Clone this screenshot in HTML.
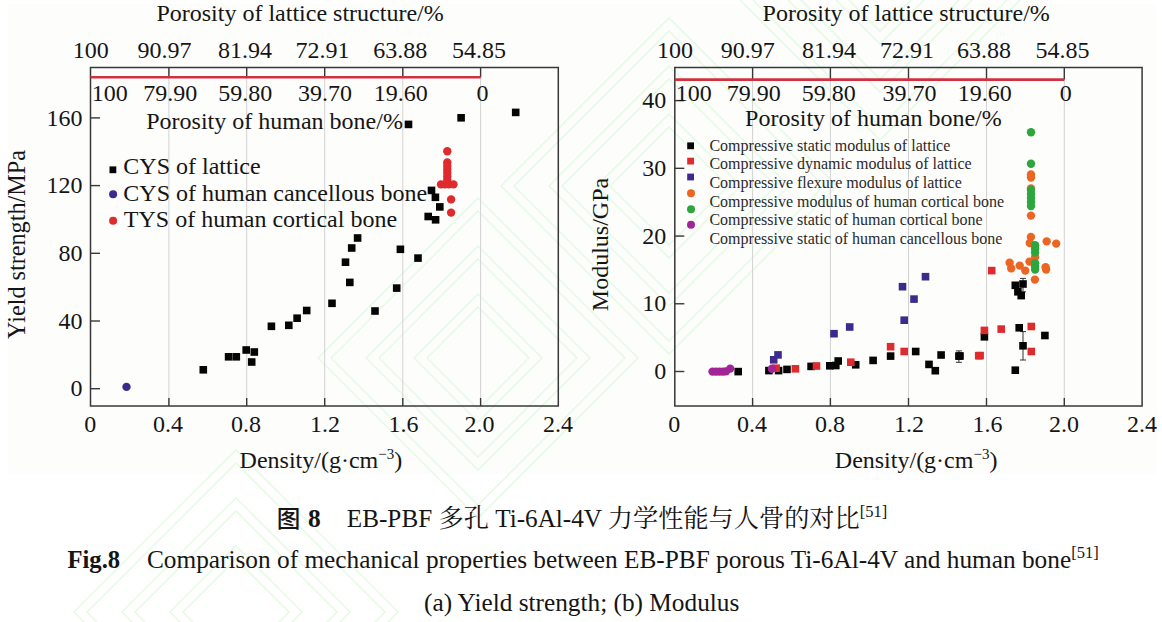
<!DOCTYPE html>
<html><head><meta charset="utf-8"><title>Fig.8</title>
<style>
html,body{margin:0;padding:0;background:#fff;}
body{width:1162px;height:622px;overflow:hidden;}
svg{display:block;}
</style></head><body>
<svg width="1162" height="622" viewBox="0 0 1162 622">
<rect x="8" y="4" width="1149" height="470" fill="#fdfdfc"/>
<g>
<path d="M478.0 198.0 L638.0 358.0 L478.0 518.0 L318.0 358.0 Z" fill="none" stroke="#e6fae6" stroke-width="1.6"/>
<path d="M478.0 211.0 L625.0 358.0 L478.0 505.0 L331.0 358.0 Z" fill="none" stroke="#e6fae6" stroke-width="1.6"/>
<path d="M478.0 246.0 L590.0 358.0 L478.0 470.0 L366.0 358.0 Z" fill="none" stroke="#e6fae6" stroke-width="1.6"/>
<path d="M478.0 259.0 L577.0 358.0 L478.0 457.0 L379.0 358.0 Z" fill="none" stroke="#e6fae6" stroke-width="1.6"/>
<path d="M478.0 294.0 L542.0 358.0 L478.0 422.0 L414.0 358.0 Z" fill="none" stroke="#e6fae6" stroke-width="1.6"/>
<path d="M478.0 307.0 L529.0 358.0 L478.0 409.0 L427.0 358.0 Z" fill="none" stroke="#e6fae6" stroke-width="1.6"/>
<path d="M669.0 18.0 L837.0 186.0 L669.0 354.0 L501.0 186.0 Z" fill="none" stroke="#e6fae6" stroke-width="1.6"/>
<path d="M669.0 31.0 L824.0 186.0 L669.0 341.0 L514.0 186.0 Z" fill="none" stroke="#e6fae6" stroke-width="1.6"/>
<path d="M669.0 66.0 L789.0 186.0 L669.0 306.0 L549.0 186.0 Z" fill="none" stroke="#e6fae6" stroke-width="1.6"/>
<path d="M669.0 79.0 L776.0 186.0 L669.0 293.0 L562.0 186.0 Z" fill="none" stroke="#e6fae6" stroke-width="1.6"/>
<path d="M669.0 114.0 L741.0 186.0 L669.0 258.0 L597.0 186.0 Z" fill="none" stroke="#e6fae6" stroke-width="1.6"/>
<path d="M669.0 127.0 L728.0 186.0 L669.0 245.0 L610.0 186.0 Z" fill="none" stroke="#e6fae6" stroke-width="1.6"/>
<path d="M236.0 450.0 L398.0 612.0 L236.0 774.0 L74.0 612.0 Z" fill="none" stroke="#e6fae6" stroke-width="1.6"/>
<path d="M236.0 463.0 L385.0 612.0 L236.0 761.0 L87.0 612.0 Z" fill="none" stroke="#e6fae6" stroke-width="1.6"/>
<path d="M236.0 498.0 L350.0 612.0 L236.0 726.0 L122.0 612.0 Z" fill="none" stroke="#e6fae6" stroke-width="1.6"/>
<path d="M236.0 511.0 L337.0 612.0 L236.0 713.0 L135.0 612.0 Z" fill="none" stroke="#e6fae6" stroke-width="1.6"/>
<path d="M236.0 546.0 L302.0 612.0 L236.0 678.0 L170.0 612.0 Z" fill="none" stroke="#e6fae6" stroke-width="1.6"/>
<path d="M236.0 559.0 L289.0 612.0 L236.0 665.0 L183.0 612.0 Z" fill="none" stroke="#e6fae6" stroke-width="1.6"/>
<path d="M880.0 -160.0 L1030.0 -10.0 L880.0 140.0 L730.0 -10.0 Z" fill="none" stroke="#e6fae6" stroke-width="1.6"/>
<path d="M880.0 -147.0 L1017.0 -10.0 L880.0 127.0 L743.0 -10.0 Z" fill="none" stroke="#e6fae6" stroke-width="1.6"/>
<path d="M880.0 -112.0 L982.0 -10.0 L880.0 92.0 L778.0 -10.0 Z" fill="none" stroke="#e6fae6" stroke-width="1.6"/>
<path d="M880.0 -99.0 L969.0 -10.0 L880.0 79.0 L791.0 -10.0 Z" fill="none" stroke="#e6fae6" stroke-width="1.6"/>
<path d="M880.0 -64.0 L934.0 -10.0 L880.0 44.0 L826.0 -10.0 Z" fill="none" stroke="#e6fae6" stroke-width="1.6"/>
<path d="M880.0 -51.0 L921.0 -10.0 L880.0 31.0 L839.0 -10.0 Z" fill="none" stroke="#e6fae6" stroke-width="1.6"/>
</g>
<g font-family="'Liberation Serif', 'Times New Roman', serif" fill="#151515">
<line x1="168.90" y1="67.5" x2="168.90" y2="406" stroke="#d2d2d2" stroke-width="1"/>
<line x1="246.70" y1="67.5" x2="246.70" y2="406" stroke="#d2d2d2" stroke-width="1"/>
<line x1="324.70" y1="67.5" x2="324.70" y2="406" stroke="#d2d2d2" stroke-width="1"/>
<line x1="402.80" y1="67.5" x2="402.80" y2="406" stroke="#d2d2d2" stroke-width="1"/>
<line x1="480.60" y1="67.5" x2="480.60" y2="406" stroke="#d2d2d2" stroke-width="1"/>
<line x1="168.90" y1="67.5" x2="168.90" y2="77.3" stroke="#383838" stroke-width="1.4"/>
<line x1="168.90" y1="406" x2="168.90" y2="398" stroke="#383838" stroke-width="1.4"/>
<line x1="246.70" y1="67.5" x2="246.70" y2="77.3" stroke="#383838" stroke-width="1.4"/>
<line x1="246.70" y1="406" x2="246.70" y2="398" stroke="#383838" stroke-width="1.4"/>
<line x1="324.70" y1="67.5" x2="324.70" y2="77.3" stroke="#383838" stroke-width="1.4"/>
<line x1="324.70" y1="406" x2="324.70" y2="398" stroke="#383838" stroke-width="1.4"/>
<line x1="402.80" y1="67.5" x2="402.80" y2="77.3" stroke="#383838" stroke-width="1.4"/>
<line x1="402.80" y1="406" x2="402.80" y2="398" stroke="#383838" stroke-width="1.4"/>
<line x1="480.60" y1="67.5" x2="480.60" y2="77.3" stroke="#383838" stroke-width="1.4"/>
<line x1="480.60" y1="406" x2="480.60" y2="398" stroke="#383838" stroke-width="1.4"/>
<line x1="90.5" y1="388.70" x2="100.0" y2="388.70" stroke="#383838" stroke-width="1.4"/>
<text x="70.60" y="396.40" font-size="24" text-anchor="start" >0</text>
<line x1="90.5" y1="321.00" x2="100.0" y2="321.00" stroke="#383838" stroke-width="1.4"/>
<text x="58.60" y="328.70" font-size="24" text-anchor="start" >40</text>
<line x1="90.5" y1="253.30" x2="100.0" y2="253.30" stroke="#383838" stroke-width="1.4"/>
<text x="58.60" y="261.00" font-size="24" text-anchor="start" >80</text>
<line x1="90.5" y1="185.60" x2="100.0" y2="185.60" stroke="#383838" stroke-width="1.4"/>
<text x="46.60" y="193.30" font-size="24" text-anchor="start" >120</text>
<line x1="90.5" y1="117.90" x2="100.0" y2="117.90" stroke="#383838" stroke-width="1.4"/>
<text x="46.60" y="125.60" font-size="24" text-anchor="start" >160</text>
<rect x="90.5" y="67.5" width="467.80" height="338.50" fill="none" stroke="#383838" stroke-width="1.5"/>
<line x1="90.5" y1="77.3" x2="480.60" y2="77.3" stroke="#d3303f" stroke-width="2.6"/>
<text x="72.80" y="58.30" font-size="24" text-anchor="start" >100</text>
<text x="137.50" y="58.30" font-size="24" text-anchor="start" >90.97</text>
<text x="218.12" y="58.30" font-size="24" text-anchor="start" >81.94</text>
<text x="295.50" y="58.30" font-size="24" text-anchor="start" >72.91</text>
<text x="373.20" y="58.30" font-size="24" text-anchor="start" >63.88</text>
<text x="452.05" y="58.30" font-size="24" text-anchor="start" >54.85</text>
<text x="91.70" y="101.10" font-size="24" text-anchor="start" >100</text>
<text x="143.35" y="101.10" font-size="24" text-anchor="start" >79.90</text>
<text x="218.25" y="101.10" font-size="24" text-anchor="start" >59.80</text>
<text x="298.07" y="101.10" font-size="24" text-anchor="start" >39.70</text>
<text x="373.80" y="101.10" font-size="24" text-anchor="start" >19.60</text>
<text x="476.40" y="101.10" font-size="24" text-anchor="start" >0</text>
<text x="84.30" y="431.60" font-size="24" text-anchor="start" >0</text>
<text x="153.12" y="431.60" font-size="24" text-anchor="start" >0.4</text>
<text x="231.00" y="431.60" font-size="24" text-anchor="start" >0.8</text>
<text x="310.12" y="431.60" font-size="24" text-anchor="start" >1.2</text>
<text x="388.57" y="431.60" font-size="24" text-anchor="start" >1.6</text>
<text x="464.60" y="431.60" font-size="24" text-anchor="start" >2.0</text>
<text x="543.02" y="431.60" font-size="24" text-anchor="start" >2.4</text>
<text x="156.45" y="20.60" font-size="24" text-anchor="start" >Porosity of lattice structure/%</text>
<text x="146.25" y="128.80" font-size="24" text-anchor="start" >Porosity of human bone/%</text>
<text x="239.6" y="468.2" font-size="24">Density/(g·cm<tspan dy="-9" font-size="15">−3</tspan><tspan dy="9">)</tspan></text>
<text transform="translate(24.8,338.9) rotate(-90)" font-size="24.2">Yield strength/MPa</text>
<rect x="109.50" y="166.40" width="6.8" height="6.8" fill="#050505"/>
<circle cx="113.10" cy="194.30" r="4.0" fill="#3c2b8c"/>
<circle cx="113.10" cy="220.80" r="4.0" fill="#df2a2e"/>
<text x="123.30" y="173.80" font-size="24" text-anchor="start" >CYS of lattice</text>
<text x="123.30" y="200.70" font-size="24" text-anchor="start" >CYS of human cancellous bone</text>
<text x="123.80" y="226.80" font-size="24" text-anchor="start" >TYS of human cortical bone</text>
<rect x="199.50" y="366.00" width="7.6" height="7.6" fill="#050505"/>
<rect x="224.80" y="353.00" width="7.6" height="7.6" fill="#050505"/>
<rect x="232.50" y="353.00" width="7.6" height="7.6" fill="#050505"/>
<rect x="242.40" y="346.20" width="7.6" height="7.6" fill="#050505"/>
<rect x="250.50" y="348.20" width="7.6" height="7.6" fill="#050505"/>
<rect x="247.90" y="358.20" width="7.6" height="7.6" fill="#050505"/>
<rect x="267.60" y="322.50" width="7.6" height="7.6" fill="#050505"/>
<rect x="285.00" y="321.50" width="7.6" height="7.6" fill="#050505"/>
<rect x="293.30" y="314.40" width="7.6" height="7.6" fill="#050505"/>
<rect x="302.90" y="306.70" width="7.6" height="7.6" fill="#050505"/>
<rect x="328.20" y="299.50" width="7.6" height="7.6" fill="#050505"/>
<rect x="346.00" y="278.60" width="7.6" height="7.6" fill="#050505"/>
<rect x="371.20" y="307.20" width="7.6" height="7.6" fill="#050505"/>
<rect x="341.70" y="258.40" width="7.6" height="7.6" fill="#050505"/>
<rect x="347.90" y="244.20" width="7.6" height="7.6" fill="#050505"/>
<rect x="353.80" y="234.20" width="7.6" height="7.6" fill="#050505"/>
<rect x="392.90" y="284.30" width="7.6" height="7.6" fill="#050505"/>
<rect x="396.60" y="245.50" width="7.6" height="7.6" fill="#050505"/>
<rect x="414.20" y="254.30" width="7.6" height="7.6" fill="#050505"/>
<rect x="424.40" y="212.70" width="7.6" height="7.6" fill="#050505"/>
<rect x="431.80" y="216.00" width="7.6" height="7.6" fill="#050505"/>
<rect x="436.00" y="203.10" width="7.6" height="7.6" fill="#050505"/>
<rect x="427.70" y="186.60" width="7.6" height="7.6" fill="#050505"/>
<rect x="431.60" y="193.50" width="7.6" height="7.6" fill="#050505"/>
<rect x="404.70" y="120.60" width="7.6" height="7.6" fill="#050505"/>
<rect x="457.30" y="114.00" width="7.6" height="7.6" fill="#050505"/>
<rect x="511.90" y="108.60" width="7.6" height="7.6" fill="#050505"/>
<circle cx="447.30" cy="151.20" r="4.2" fill="#df2a2e"/>
<circle cx="447.30" cy="162.50" r="4.2" fill="#df2a2e"/>
<circle cx="447.30" cy="166.00" r="4.2" fill="#df2a2e"/>
<circle cx="447.30" cy="169.50" r="4.2" fill="#df2a2e"/>
<circle cx="447.30" cy="173.00" r="4.2" fill="#df2a2e"/>
<circle cx="447.30" cy="176.50" r="4.2" fill="#df2a2e"/>
<circle cx="447.30" cy="180.00" r="4.2" fill="#df2a2e"/>
<circle cx="441.00" cy="184.40" r="4.2" fill="#df2a2e"/>
<circle cx="445.00" cy="184.40" r="4.2" fill="#df2a2e"/>
<circle cx="449.00" cy="184.40" r="4.2" fill="#df2a2e"/>
<circle cx="453.50" cy="184.40" r="4.2" fill="#df2a2e"/>
<circle cx="451.10" cy="199.40" r="4.2" fill="#df2a2e"/>
<circle cx="451.10" cy="212.60" r="4.2" fill="#df2a2e"/>
<circle cx="126.50" cy="386.90" r="4.2" fill="#3c2b8c"/>
<line x1="752.60" y1="67.5" x2="752.60" y2="406" stroke="#d2d2d2" stroke-width="1"/>
<line x1="830.40" y1="67.5" x2="830.40" y2="406" stroke="#d2d2d2" stroke-width="1"/>
<line x1="908.50" y1="67.5" x2="908.50" y2="406" stroke="#d2d2d2" stroke-width="1"/>
<line x1="986.50" y1="67.5" x2="986.50" y2="406" stroke="#d2d2d2" stroke-width="1"/>
<line x1="1064.30" y1="67.5" x2="1064.30" y2="406" stroke="#d2d2d2" stroke-width="1"/>
<line x1="752.60" y1="67.5" x2="752.60" y2="79.6" stroke="#383838" stroke-width="1.4"/>
<line x1="752.60" y1="406" x2="752.60" y2="398" stroke="#383838" stroke-width="1.4"/>
<line x1="830.40" y1="67.5" x2="830.40" y2="79.6" stroke="#383838" stroke-width="1.4"/>
<line x1="830.40" y1="406" x2="830.40" y2="398" stroke="#383838" stroke-width="1.4"/>
<line x1="908.50" y1="67.5" x2="908.50" y2="79.6" stroke="#383838" stroke-width="1.4"/>
<line x1="908.50" y1="406" x2="908.50" y2="398" stroke="#383838" stroke-width="1.4"/>
<line x1="986.50" y1="67.5" x2="986.50" y2="79.6" stroke="#383838" stroke-width="1.4"/>
<line x1="986.50" y1="406" x2="986.50" y2="398" stroke="#383838" stroke-width="1.4"/>
<line x1="1064.30" y1="67.5" x2="1064.30" y2="79.6" stroke="#383838" stroke-width="1.4"/>
<line x1="1064.30" y1="406" x2="1064.30" y2="398" stroke="#383838" stroke-width="1.4"/>
<line x1="674.8" y1="371.50" x2="684.3" y2="371.50" stroke="#383838" stroke-width="1.4"/>
<text x="654.20" y="379.20" font-size="24" text-anchor="start" >0</text>
<line x1="674.8" y1="303.77" x2="684.3" y2="303.77" stroke="#383838" stroke-width="1.4"/>
<text x="642.20" y="311.47" font-size="24" text-anchor="start" >10</text>
<line x1="674.8" y1="236.05" x2="684.3" y2="236.05" stroke="#383838" stroke-width="1.4"/>
<text x="642.20" y="243.75" font-size="24" text-anchor="start" >20</text>
<line x1="674.8" y1="168.32" x2="684.3" y2="168.32" stroke="#383838" stroke-width="1.4"/>
<text x="642.20" y="176.02" font-size="24" text-anchor="start" >30</text>
<line x1="674.8" y1="100.60" x2="684.3" y2="100.60" stroke="#383838" stroke-width="1.4"/>
<text x="642.20" y="108.30" font-size="24" text-anchor="start" >40</text>
<rect x="674.8" y="67.5" width="467.30" height="338.50" fill="none" stroke="#383838" stroke-width="1.5"/>
<line x1="674.8" y1="79.6" x2="1064.30" y2="79.6" stroke="#d3303f" stroke-width="2.6"/>
<text x="656.90" y="58.30" font-size="24" text-anchor="start" >100</text>
<text x="720.80" y="58.30" font-size="24" text-anchor="start" >90.97</text>
<text x="802.02" y="58.30" font-size="24" text-anchor="start" >81.94</text>
<text x="879.90" y="58.30" font-size="24" text-anchor="start" >72.91</text>
<text x="957.10" y="58.30" font-size="24" text-anchor="start" >63.88</text>
<text x="1035.55" y="58.30" font-size="24" text-anchor="start" >54.85</text>
<text x="675.70" y="100.60" font-size="24" text-anchor="start" >100</text>
<text x="726.75" y="100.60" font-size="24" text-anchor="start" >79.90</text>
<text x="801.75" y="100.60" font-size="24" text-anchor="start" >59.80</text>
<text x="882.58" y="100.60" font-size="24" text-anchor="start" >39.70</text>
<text x="957.80" y="100.60" font-size="24" text-anchor="start" >19.60</text>
<text x="1059.80" y="100.60" font-size="24" text-anchor="start" >0</text>
<text x="668.20" y="431.60" font-size="24" text-anchor="start" >0</text>
<text x="737.02" y="431.60" font-size="24" text-anchor="start" >0.4</text>
<text x="814.90" y="431.60" font-size="24" text-anchor="start" >0.8</text>
<text x="894.02" y="431.60" font-size="24" text-anchor="start" >1.2</text>
<text x="972.38" y="431.60" font-size="24" text-anchor="start" >1.6</text>
<text x="1049.00" y="431.60" font-size="24" text-anchor="start" >2.0</text>
<text x="1127.03" y="431.60" font-size="24" text-anchor="start" >2.4</text>
<text x="762.55" y="20.60" font-size="24" text-anchor="start" >Porosity of lattice structure/%</text>
<text x="745.05" y="126.00" font-size="24" text-anchor="start" >Porosity of human bone/%</text>
<text x="834.8" y="468.3" font-size="24">Density/(g·cm<tspan dy="-9" font-size="15">−3</tspan><tspan dy="9">)</tspan></text>
<text transform="translate(608,311.2) rotate(-90)" font-size="24">Modulus/GPa</text>
<rect x="687.20" y="142.40" width="6.8" height="6.8" fill="#050505"/>
<rect x="687.20" y="157.70" width="6.8" height="6.8" fill="#df2a2e"/>
<rect x="687.20" y="173.60" width="6.8" height="6.8" fill="#3c2b8c"/>
<circle cx="691.00" cy="193.30" r="4.0" fill="#eb6523"/>
<circle cx="691.00" cy="209.20" r="4.0" fill="#2da63d"/>
<circle cx="691.00" cy="224.70" r="4.0" fill="#a12596"/>
<text x="709.45" y="150.80" font-size="16" text-anchor="start" fill="#2a2a2a">Compressive static modulus of lattice</text>
<text x="709.45" y="169.40" font-size="16" text-anchor="start" fill="#2a2a2a">Compressive dynamic modulus of lattice</text>
<text x="709.45" y="188.00" font-size="16" text-anchor="start" fill="#2a2a2a">Compressive flexure modulus of lattice</text>
<text x="709.45" y="206.60" font-size="16" text-anchor="start" fill="#2a2a2a">Compressive modulus of human cortical bone</text>
<text x="709.45" y="225.20" font-size="16" text-anchor="start" fill="#2a2a2a">Compressive static of human cortical bone</text>
<text x="709.45" y="243.80" font-size="16" text-anchor="start" fill="#2a2a2a">Compressive static of human cancellous bone</text>
<path d="M955.9 350.9H961.9M958.9 350.9V362.3M955.9 362.3H961.9" stroke="#333" stroke-width="1" fill="none"/>
<path d="M1020 331.6H1026M1023 331.6V360M1020 360H1026" stroke="#333" stroke-width="1" fill="none"/>
<path d="M1020 278.4H1026M1023 278.4V291.8M1020 291.8H1026" stroke="#333" stroke-width="1" fill="none"/>
<rect x="734.40" y="367.80" width="7.6" height="7.6" fill="#050505"/>
<rect x="765.10" y="366.80" width="7.6" height="7.6" fill="#050505"/>
<rect x="774.80" y="366.80" width="7.6" height="7.6" fill="#050505"/>
<rect x="783.20" y="365.60" width="7.6" height="7.6" fill="#050505"/>
<rect x="807.30" y="362.60" width="7.6" height="7.6" fill="#050505"/>
<rect x="826.00" y="362.00" width="7.6" height="7.6" fill="#050505"/>
<rect x="832.00" y="361.70" width="7.6" height="7.6" fill="#050505"/>
<rect x="834.40" y="357.20" width="7.6" height="7.6" fill="#050505"/>
<rect x="851.90" y="361.00" width="7.6" height="7.6" fill="#050505"/>
<rect x="869.30" y="356.60" width="7.6" height="7.6" fill="#050505"/>
<rect x="886.80" y="352.30" width="7.6" height="7.6" fill="#050505"/>
<rect x="911.90" y="347.70" width="7.6" height="7.6" fill="#050505"/>
<rect x="925.20" y="360.60" width="7.6" height="7.6" fill="#050505"/>
<rect x="931.50" y="366.90" width="7.6" height="7.6" fill="#050505"/>
<rect x="937.30" y="351.20" width="7.6" height="7.6" fill="#050505"/>
<rect x="955.10" y="352.30" width="7.6" height="7.6" fill="#050505"/>
<rect x="956.20" y="352.20" width="7.6" height="7.6" fill="#050505"/>
<rect x="980.60" y="333.00" width="7.6" height="7.6" fill="#050505"/>
<rect x="1015.40" y="324.00" width="7.6" height="7.6" fill="#050505"/>
<rect x="1041.10" y="331.70" width="7.6" height="7.6" fill="#050505"/>
<rect x="1019.20" y="342.00" width="7.6" height="7.6" fill="#050505"/>
<rect x="1011.50" y="366.40" width="7.6" height="7.6" fill="#050505"/>
<rect x="1011.50" y="281.50" width="7.6" height="7.6" fill="#050505"/>
<rect x="1019.20" y="280.20" width="7.6" height="7.6" fill="#050505"/>
<rect x="1014.10" y="288.00" width="7.6" height="7.6" fill="#050505"/>
<rect x="1017.40" y="291.80" width="7.6" height="7.6" fill="#050505"/>
<rect x="772.30" y="364.40" width="7.6" height="7.6" fill="#df2a2e"/>
<rect x="791.60" y="365.00" width="7.6" height="7.6" fill="#df2a2e"/>
<rect x="812.70" y="362.20" width="7.6" height="7.6" fill="#df2a2e"/>
<rect x="847.00" y="358.40" width="7.6" height="7.6" fill="#df2a2e"/>
<rect x="886.80" y="342.90" width="7.6" height="7.6" fill="#df2a2e"/>
<rect x="900.40" y="347.70" width="7.6" height="7.6" fill="#df2a2e"/>
<rect x="974.90" y="351.90" width="7.6" height="7.6" fill="#df2a2e"/>
<rect x="987.90" y="266.80" width="7.6" height="7.6" fill="#df2a2e"/>
<rect x="980.60" y="326.60" width="7.6" height="7.6" fill="#df2a2e"/>
<rect x="997.40" y="325.30" width="7.6" height="7.6" fill="#df2a2e"/>
<rect x="1027.50" y="322.70" width="7.6" height="7.6" fill="#df2a2e"/>
<rect x="1027.50" y="347.70" width="7.6" height="7.6" fill="#df2a2e"/>
<rect x="976.30" y="351.80" width="7.6" height="7.6" fill="#df2a2e"/>
<rect x="769.90" y="356.00" width="7.6" height="7.6" fill="#3c2b8c"/>
<rect x="774.20" y="351.10" width="7.6" height="7.6" fill="#3c2b8c"/>
<rect x="830.20" y="329.90" width="7.6" height="7.6" fill="#3c2b8c"/>
<rect x="845.90" y="323.20" width="7.6" height="7.6" fill="#3c2b8c"/>
<rect x="898.70" y="282.90" width="7.6" height="7.6" fill="#3c2b8c"/>
<rect x="921.70" y="272.90" width="7.6" height="7.6" fill="#3c2b8c"/>
<rect x="910.20" y="295.30" width="7.6" height="7.6" fill="#3c2b8c"/>
<rect x="900.40" y="316.40" width="7.6" height="7.6" fill="#3c2b8c"/>
<circle cx="1031.00" cy="174.50" r="4.2" fill="#eb6523"/>
<circle cx="1031.00" cy="177.50" r="4.2" fill="#eb6523"/>
<circle cx="1031.00" cy="188.50" r="4.2" fill="#eb6523"/>
<circle cx="1031.00" cy="215.60" r="4.2" fill="#eb6523"/>
<circle cx="1030.90" cy="236.90" r="4.2" fill="#eb6523"/>
<circle cx="1029.80" cy="243.00" r="4.2" fill="#eb6523"/>
<circle cx="1046.70" cy="241.40" r="4.2" fill="#eb6523"/>
<circle cx="1056.20" cy="243.60" r="4.2" fill="#eb6523"/>
<circle cx="1035.10" cy="257.10" r="4.2" fill="#eb6523"/>
<circle cx="1029.50" cy="261.60" r="4.2" fill="#eb6523"/>
<circle cx="1009.60" cy="262.70" r="4.2" fill="#eb6523"/>
<circle cx="1011.20" cy="268.40" r="4.2" fill="#eb6523"/>
<circle cx="1019.70" cy="265.60" r="4.2" fill="#eb6523"/>
<circle cx="1025.30" cy="270.60" r="4.2" fill="#eb6523"/>
<circle cx="1046.10" cy="269.50" r="4.2" fill="#eb6523"/>
<circle cx="1045.60" cy="267.20" r="4.2" fill="#eb6523"/>
<circle cx="1034.90" cy="279.60" r="4.2" fill="#eb6523"/>
<circle cx="1031.00" cy="132.30" r="4.2" fill="#2da63d"/>
<circle cx="1031.00" cy="163.70" r="4.2" fill="#2da63d"/>
<circle cx="1031.00" cy="190.00" r="4.2" fill="#2da63d"/>
<circle cx="1031.00" cy="194.00" r="4.2" fill="#2da63d"/>
<circle cx="1031.00" cy="198.00" r="4.2" fill="#2da63d"/>
<circle cx="1031.00" cy="202.00" r="4.2" fill="#2da63d"/>
<circle cx="1031.00" cy="206.00" r="4.2" fill="#2da63d"/>
<circle cx="1035.10" cy="245.30" r="4.2" fill="#2da63d"/>
<circle cx="1035.10" cy="249.00" r="4.2" fill="#2da63d"/>
<circle cx="1035.10" cy="252.60" r="4.2" fill="#2da63d"/>
<circle cx="1035.10" cy="263.30" r="4.2" fill="#2da63d"/>
<circle cx="1035.10" cy="266.50" r="4.2" fill="#2da63d"/>
<circle cx="1035.10" cy="269.50" r="4.2" fill="#2da63d"/>
<circle cx="712.50" cy="371.60" r="4.2" fill="#a12596"/>
<circle cx="716.00" cy="371.60" r="4.2" fill="#a12596"/>
<circle cx="719.50" cy="371.60" r="4.2" fill="#a12596"/>
<circle cx="723.00" cy="371.60" r="4.2" fill="#a12596"/>
<circle cx="726.00" cy="371.40" r="4.2" fill="#a12596"/>
<circle cx="730.20" cy="368.60" r="4.2" fill="#a12596"/>
<circle cx="771.90" cy="368.80" r="4.2" fill="#a12596"/>
<text x="276.8" y="526.8" font-size="23.6" font-weight="500" font-family="'Noto Sans CJK SC',sans-serif">图</text>
<text x="307.9" y="527.3" font-size="25.4" font-weight="bold">8</text>
<text x="346.8" y="527" font-size="25.2" font-family="'Liberation Serif','Noto Serif CJK SC',serif">EB-PBF 多孔 Ti-6Al-4V 力学性能与人骨的对比<tspan dy="-10" font-size="16.5">[51]</tspan></text>
<text x="67.5" y="568" font-size="24.6" font-weight="bold">Fig.8</text>
<text x="147" y="568" font-size="25.3">Comparison of mechanical properties between EB-PBF porous Ti-6Al-4V and human bone<tspan dy="-10" font-size="16.5">[51]</tspan></text>
<text x="581.70" y="611.00" font-size="25.3" text-anchor="middle" >(a) Yield strength; (b) Modulus</text>
</g></svg>
</body></html>
